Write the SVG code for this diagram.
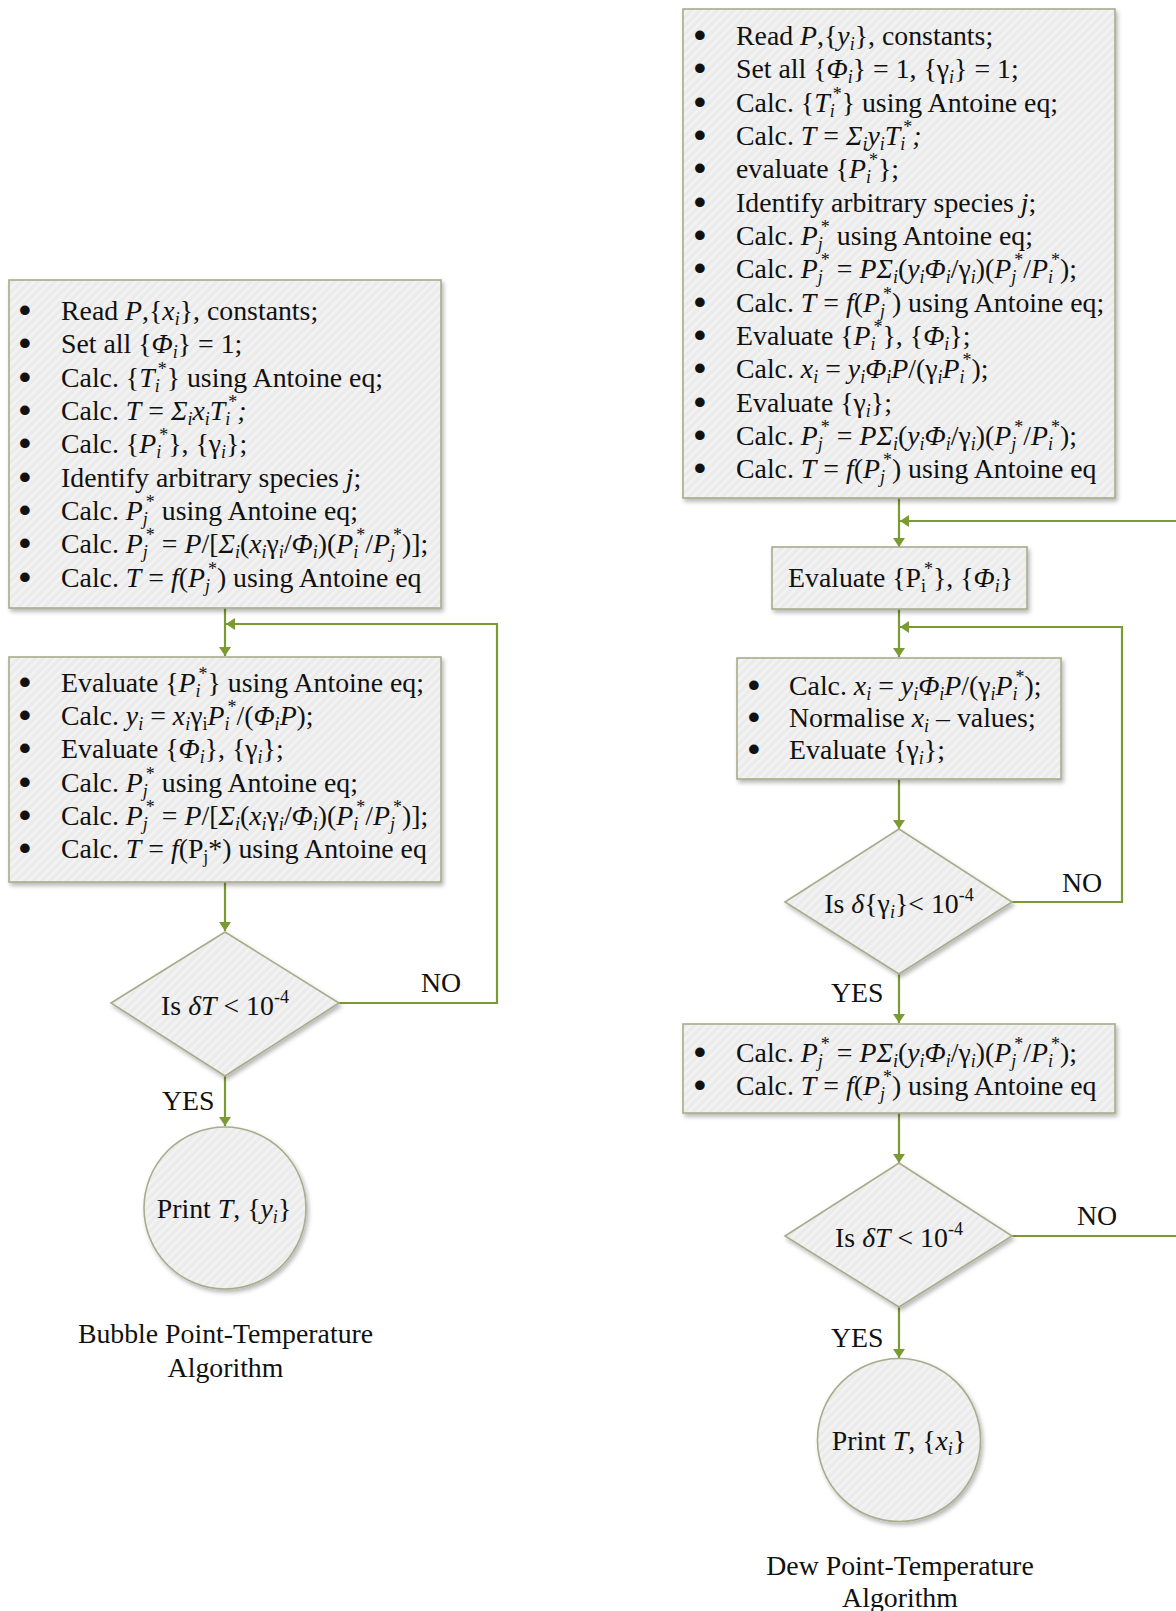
<svg xmlns="http://www.w3.org/2000/svg" width="1176" height="1611" viewBox="0 0 1176 1611">
<style>
.tx{font-family:"Liberation Serif","Times New Roman",serif;font-size:27.8px;fill:#111}
.it{font-style:italic}
.sb{font-size:18px;baseline-shift:-5px}
.sp{font-size:18px;baseline-shift:12px}
.bu{stroke:#111;stroke-width:3px;stroke-linejoin:round}
.node{fill:url(#hatch);stroke:#a8ac8b;stroke-width:1.6;filter:url(#shadow)}
.conn{fill:none;stroke:#7a9a32;stroke-width:2.2;marker-end:url(#arr)}
</style>
<defs>
<pattern id="hatch" width="6" height="6" patternUnits="userSpaceOnUse" patternTransform="rotate(45)">
<rect width="6" height="6" fill="#ebebeb"/>
<rect width="2.5" height="6" fill="#f3f3f3"/>
</pattern>
<filter id="shadow" x="-10%" y="-10%" width="125%" height="130%">
<feDropShadow dx="2" dy="3" stdDeviation="2.2" flood-color="#000" flood-opacity="0.28"/>
</filter>
<marker id="arr" markerUnits="userSpaceOnUse" markerWidth="10" markerHeight="14" refX="9" refY="7" orient="auto">
<path d="M0,1 L9,7 L0,13 z" fill="#7a9a32"/>
</marker>
</defs>

<g id="connectors">
<path class="conn" d="M225 608 V656"/>
<path class="conn" d="M339 1003 H497 V624 H226"/>
<path class="conn" d="M225 882 V931"/>
<path class="conn" d="M225 1076 V1126"/>
<path class="conn" d="M899 498 V547"/>
<path class="conn" d="M1012 1236 H1190 V521 H900"/>
<path class="conn" d="M899 609 V657"/>
<path class="conn" d="M1012 902 H1122 V627 H900"/>
<path class="conn" d="M899 779 V829"/>
<path class="conn" d="M899 974 V1023"/>
<path class="conn" d="M899 1113 V1163"/>
<path class="conn" d="M899 1307 V1358"/>
</g>

<g id="bubble-init">
<rect class="node" x="9" y="280" width="432" height="328"/>
<text class="tx" y="320"><tspan class="bu" x="20">•</tspan><tspan x="61">Read <tspan class="it">P</tspan>,{<tspan class="it">x</tspan><tspan class="it sb">i</tspan>}, constants;</tspan></text>
<text class="tx" y="353"><tspan class="bu" x="20">•</tspan><tspan x="61">Set all {<tspan class="it">Φ</tspan><tspan class="it sb">i</tspan>} = 1;</tspan></text>
<text class="tx" y="387"><tspan class="bu" x="20">•</tspan><tspan x="61">Calc. {<tspan class="it">T</tspan><tspan class="it sb">i</tspan><tspan class="sp" dx="-2">*</tspan>} using Antoine eq;</tspan></text>
<text class="tx" y="420"><tspan class="bu" x="20">•</tspan><tspan x="61">Calc. <tspan class="it">T</tspan> = <tspan class="it">Σ</tspan><tspan class="it sb">i</tspan><tspan class="it">x</tspan><tspan class="it sb">i</tspan><tspan class="it">T</tspan><tspan class="it sb">i</tspan><tspan class="sp" dx="-2">*</tspan><tspan class="it">;</tspan></tspan></text>
<text class="tx" y="453"><tspan class="bu" x="20">•</tspan><tspan x="61">Calc. {<tspan class="it">P</tspan><tspan class="it sb">i</tspan><tspan class="sp" dx="-2">*</tspan>}, {γ<tspan class="it sb">i</tspan>};</tspan></text>
<text class="tx" y="487"><tspan class="bu" x="20">•</tspan><tspan x="61">Identify arbitrary species <tspan class="it">j</tspan>;</tspan></text>
<text class="tx" y="520"><tspan class="bu" x="20">•</tspan><tspan x="61">Calc. <tspan class="it">P</tspan><tspan class="it sb">j</tspan><tspan class="sp" dx="-2">*</tspan> using Antoine eq;</tspan></text>
<text class="tx" y="553"><tspan class="bu" x="20">•</tspan><tspan x="61">Calc. <tspan class="it">P</tspan><tspan class="it sb">j</tspan><tspan class="sp" dx="-2">*</tspan> = <tspan class="it">P</tspan>/[<tspan class="it">Σ</tspan><tspan class="it sb">i</tspan>(<tspan class="it">x</tspan><tspan class="it sb">i</tspan>γ<tspan class="it sb">i</tspan>/<tspan class="it">Φ</tspan><tspan class="it sb">i</tspan>)(<tspan class="it">P</tspan><tspan class="it sb">i</tspan><tspan class="sp" dx="-2">*</tspan>/<tspan class="it">P</tspan><tspan class="it sb">j</tspan><tspan class="sp" dx="-2">*</tspan>)];</tspan></text>
<text class="tx" y="587"><tspan class="bu" x="20">•</tspan><tspan x="61">Calc. <tspan class="it">T</tspan> = <tspan class="it">f</tspan>(<tspan class="it">P</tspan><tspan class="it sb">j</tspan><tspan class="sp" dx="-2">*</tspan>) using Antoine eq</tspan></text>
</g>

<g id="bubble-loop">
<rect class="node" x="9" y="657" width="432" height="225"/>
<text class="tx" y="692"><tspan class="bu" x="20">•</tspan><tspan x="61">Evaluate {<tspan class="it">P</tspan><tspan class="it sb">i</tspan><tspan class="sp" dx="-2">*</tspan>} using Antoine eq;</tspan></text>
<text class="tx" y="725"><tspan class="bu" x="20">•</tspan><tspan x="61">Calc. <tspan class="it">y</tspan><tspan class="it sb">i</tspan> = <tspan class="it">x</tspan><tspan class="it sb">i</tspan>γ<tspan class="sb">i</tspan><tspan class="it">P</tspan><tspan class="it sb">i</tspan><tspan class="sp" dx="-2">*</tspan>/(<tspan class="it">Φ</tspan><tspan class="it sb">i</tspan><tspan class="it">P</tspan>);</tspan></text>
<text class="tx" y="758"><tspan class="bu" x="20">•</tspan><tspan x="61">Evaluate {<tspan class="it">Φ</tspan><tspan class="it sb">i</tspan>}, {γ<tspan class="it sb">i</tspan>};</tspan></text>
<text class="tx" y="792"><tspan class="bu" x="20">•</tspan><tspan x="61">Calc. <tspan class="it">P</tspan><tspan class="it sb">j</tspan><tspan class="sp" dx="-2">*</tspan> using Antoine eq;</tspan></text>
<text class="tx" y="825"><tspan class="bu" x="20">•</tspan><tspan x="61">Calc. <tspan class="it">P</tspan><tspan class="it sb">j</tspan><tspan class="sp" dx="-2">*</tspan> = <tspan class="it">P</tspan>/[<tspan class="it">Σ</tspan><tspan class="it sb">i</tspan>(<tspan class="it">x</tspan><tspan class="it sb">i</tspan>γ<tspan class="it sb">i</tspan>/<tspan class="it">Φ</tspan><tspan class="it sb">i</tspan>)(<tspan class="it">P</tspan><tspan class="it sb">i</tspan><tspan class="sp" dx="-2">*</tspan>/<tspan class="it">P</tspan><tspan class="it sb">j</tspan><tspan class="sp" dx="-2">*</tspan>)];</tspan></text>
<text class="tx" y="858"><tspan class="bu" x="20">•</tspan><tspan x="61">Calc. <tspan class="it">T</tspan> = <tspan class="it">f</tspan>(P<tspan class="sb">j</tspan>*) using Antoine eq</tspan></text>
</g>

<g id="bubble-check">
<polygon class="node" points="111,1003 225,932 339,1003 225,1076"/>
<text class="tx" x="225" y="1015" text-anchor="middle">Is <tspan class="it">δT</tspan> &lt; 10<tspan class="sp">-4</tspan></text>
</g>

<g id="bubble-print">
<circle class="node" cx="225" cy="1208" r="81"/>
<text class="tx" x="224" y="1218" text-anchor="middle">Print <tspan class="it">T</tspan>, {<tspan class="it">y</tspan><tspan class="it sb">i</tspan>}</text>
</g>

<g id="labels">
<text class="tx" x="421" y="992">NO</text>
<text class="tx" x="162" y="1110">YES</text>
<text class="tx" x="1062" y="892">NO</text>
<text class="tx" x="831" y="1002">YES</text>
<text class="tx" x="1077" y="1225">NO</text>
<text class="tx" x="831" y="1347">YES</text>
<text class="tx" x="225.5" y="1343" text-anchor="middle">Bubble Point-Temperature</text>
<text class="tx" x="225.5" y="1377" text-anchor="middle">Algorithm</text>
<text class="tx" x="900" y="1575" text-anchor="middle">Dew Point-Temperature</text>
<text class="tx" x="900" y="1607" text-anchor="middle">Algorithm</text>
</g>

<g id="dew-init">
<rect class="node" x="683" y="9" width="432" height="489"/>
<text class="tx" y="45"><tspan class="bu" x="695">•</tspan><tspan x="736">Read <tspan class="it">P</tspan>,{<tspan class="it">y</tspan><tspan class="it sb">i</tspan>}, constants;</tspan></text>
<text class="tx" y="78"><tspan class="bu" x="695">•</tspan><tspan x="736">Set all {<tspan class="it">Φ</tspan><tspan class="it sb">i</tspan>} = 1, {γ<tspan class="it sb">i</tspan>} = 1;</tspan></text>
<text class="tx" y="112"><tspan class="bu" x="695">•</tspan><tspan x="736">Calc. {<tspan class="it">T</tspan><tspan class="it sb">i</tspan><tspan class="sp" dx="-2">*</tspan>} using Antoine eq;</tspan></text>
<text class="tx" y="145"><tspan class="bu" x="695">•</tspan><tspan x="736">Calc. <tspan class="it">T</tspan> = <tspan class="it">Σ</tspan><tspan class="it sb">i</tspan><tspan class="it">y</tspan><tspan class="it sb">i</tspan><tspan class="it">T</tspan><tspan class="it sb">i</tspan><tspan class="sp" dx="-2">*</tspan><tspan class="it">;</tspan></tspan></text>
<text class="tx" y="178"><tspan class="bu" x="695">•</tspan><tspan x="736">evaluate {<tspan class="it">P</tspan><tspan class="it sb">i</tspan><tspan class="sp" dx="-2">*</tspan>};</tspan></text>
<text class="tx" y="212"><tspan class="bu" x="695">•</tspan><tspan x="736">Identify arbitrary species <tspan class="it">j</tspan>;</tspan></text>
<text class="tx" y="245"><tspan class="bu" x="695">•</tspan><tspan x="736">Calc. <tspan class="it">P</tspan><tspan class="it sb">j</tspan><tspan class="sp" dx="-2">*</tspan> using Antoine eq;</tspan></text>
<text class="tx" y="278"><tspan class="bu" x="695">•</tspan><tspan x="736">Calc. <tspan class="it">P</tspan><tspan class="it sb">j</tspan><tspan class="sp" dx="-2">*</tspan> = <tspan class="it">PΣ</tspan><tspan class="it sb">i</tspan>(<tspan class="it">y</tspan><tspan class="it sb">i</tspan><tspan class="it">Φ</tspan><tspan class="it sb">i</tspan>/γ<tspan class="it sb">i</tspan>)(<tspan class="it">P</tspan><tspan class="it sb">j</tspan><tspan class="sp" dx="-2">*</tspan>/<tspan class="it">P</tspan><tspan class="it sb">i</tspan><tspan class="sp" dx="-2">*</tspan>);</tspan></text>
<text class="tx" y="312"><tspan class="bu" x="695">•</tspan><tspan x="736">Calc. <tspan class="it">T</tspan> = <tspan class="it">f</tspan>(<tspan class="it">P</tspan><tspan class="it sb">j</tspan><tspan class="sp" dx="-2">*</tspan>) using Antoine eq;</tspan></text>
<text class="tx" y="345"><tspan class="bu" x="695">•</tspan><tspan x="736">Evaluate {<tspan class="it">P</tspan><tspan class="it sb">i</tspan><tspan class="sp" dx="-2">*</tspan>}, {<tspan class="it">Φ</tspan><tspan class="it sb">i</tspan>};</tspan></text>
<text class="tx" y="378"><tspan class="bu" x="695">•</tspan><tspan x="736">Calc. <tspan class="it">x</tspan><tspan class="it sb">i</tspan> = <tspan class="it">y</tspan><tspan class="it sb">i</tspan><tspan class="it">Φ</tspan><tspan class="it sb">i</tspan><tspan class="it">P</tspan>/(γ<tspan class="it sb">i</tspan><tspan class="it">P</tspan><tspan class="it sb">i</tspan><tspan class="sp" dx="-2">*</tspan>);</tspan></text>
<text class="tx" y="412"><tspan class="bu" x="695">•</tspan><tspan x="736">Evaluate {γ<tspan class="it sb">i</tspan>};</tspan></text>
<text class="tx" y="445"><tspan class="bu" x="695">•</tspan><tspan x="736">Calc. <tspan class="it">P</tspan><tspan class="it sb">j</tspan><tspan class="sp" dx="-2">*</tspan> = <tspan class="it">PΣ</tspan><tspan class="it sb">i</tspan>(<tspan class="it">y</tspan><tspan class="it sb">i</tspan><tspan class="it">Φ</tspan><tspan class="it sb">i</tspan>/γ<tspan class="it sb">i</tspan>)(<tspan class="it">P</tspan><tspan class="it sb">j</tspan><tspan class="sp" dx="-2">*</tspan>/<tspan class="it">P</tspan><tspan class="it sb">i</tspan><tspan class="sp" dx="-2">*</tspan>);</tspan></text>
<text class="tx" y="478"><tspan class="bu" x="695">•</tspan><tspan x="736">Calc. <tspan class="it">T</tspan> = <tspan class="it">f</tspan>(<tspan class="it">P</tspan><tspan class="it sb">j</tspan><tspan class="sp" dx="-2">*</tspan>) using Antoine eq</tspan></text>
</g>

<g id="dew-evaluate">
<rect class="node" x="772" y="547" width="255" height="62"/>
<text class="tx" x="788" y="587">Evaluate {P<tspan class="sb">i</tspan><tspan class="sp" dx="-2">*</tspan>}, {<tspan class="it">Φ</tspan><tspan class="it sb">i</tspan>}</text>
</g>

<g id="dew-loop">
<rect class="node" x="737" y="658" width="324" height="121"/>
<text class="tx" y="695"><tspan class="bu" x="749">•</tspan><tspan x="789">Calc. <tspan class="it">x</tspan><tspan class="it sb">i</tspan> = <tspan class="it">y</tspan><tspan class="it sb">i</tspan><tspan class="it">Φ</tspan><tspan class="it sb">i</tspan><tspan class="it">P</tspan>/(γ<tspan class="it sb">i</tspan><tspan class="it">P</tspan><tspan class="it sb">i</tspan><tspan class="sp" dx="-2">*</tspan>);</tspan></text>
<text class="tx" y="727"><tspan class="bu" x="749">•</tspan><tspan x="789">Normalise <tspan class="it">x</tspan><tspan class="it sb">i</tspan> – values;</tspan></text>
<text class="tx" y="759"><tspan class="bu" x="749">•</tspan><tspan x="789">Evaluate {γ<tspan class="it sb">i</tspan>};</tspan></text>
</g>

<g id="dew-gamma-check">
<polygon class="node" points="785,902 899,829 1012,902 899,974"/>
<text class="tx" x="899" y="913" text-anchor="middle">Is <tspan class="it">δ</tspan>{γ<tspan class="it sb">i</tspan>}&lt; 10<tspan class="sp">-4</tspan></text>
</g>

<g id="dew-update">
<rect class="node" x="683" y="1024" width="432" height="89"/>
<text class="tx" y="1062"><tspan class="bu" x="695">•</tspan><tspan x="736">Calc. <tspan class="it">P</tspan><tspan class="it sb">j</tspan><tspan class="sp" dx="-2">*</tspan> = <tspan class="it">PΣ</tspan><tspan class="it sb">i</tspan>(<tspan class="it">y</tspan><tspan class="it sb">i</tspan><tspan class="it">Φ</tspan><tspan class="it sb">i</tspan>/γ<tspan class="it sb">i</tspan>)(<tspan class="it">P</tspan><tspan class="it sb">j</tspan><tspan class="sp" dx="-2">*</tspan>/<tspan class="it">P</tspan><tspan class="it sb">i</tspan><tspan class="sp" dx="-2">*</tspan>);</tspan></text>
<text class="tx" y="1095"><tspan class="bu" x="695">•</tspan><tspan x="736">Calc. <tspan class="it">T</tspan> = <tspan class="it">f</tspan>(<tspan class="it">P</tspan><tspan class="it sb">j</tspan><tspan class="sp" dx="-2">*</tspan>) using Antoine eq</tspan></text>
</g>

<g id="dew-t-check">
<polygon class="node" points="785,1236 899,1163 1012,1236 899,1307"/>
<text class="tx" x="899" y="1247" text-anchor="middle">Is <tspan class="it">δT</tspan> &lt; 10<tspan class="sp">-4</tspan></text>
</g>

<g id="dew-print">
<circle class="node" cx="899" cy="1440" r="81.5"/>
<text class="tx" x="899" y="1450" text-anchor="middle">Print <tspan class="it">T</tspan>, {<tspan class="it">x</tspan><tspan class="it sb">i</tspan>}</text>
</g>
</svg>
